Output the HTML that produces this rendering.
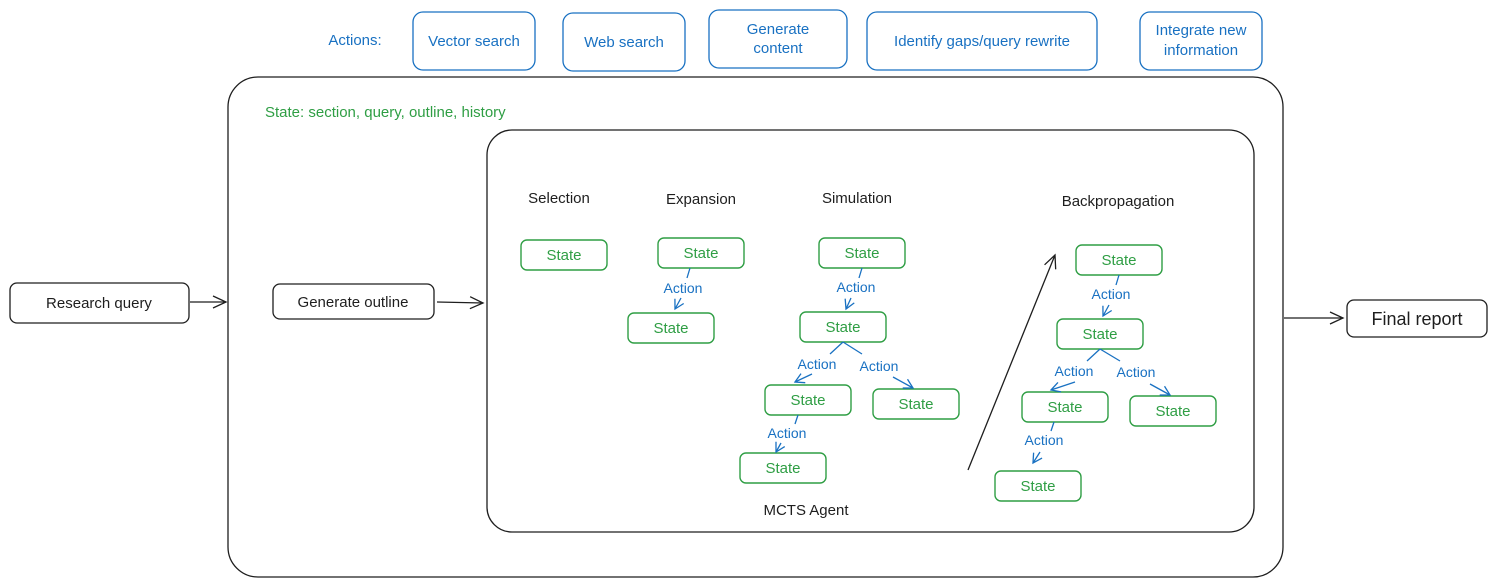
<!DOCTYPE html>
<html><head><style>
html,body{margin:0;padding:0;background:#fff;}
svg{display:block;}
text{font-family:"Liberation Sans",sans-serif;}
</style></head><body>
<svg width="1497" height="588" viewBox="0 0 1497 588" xmlns="http://www.w3.org/2000/svg">
<defs>
<marker id="ab" markerWidth="12" markerHeight="12" refX="10" refY="6" orient="auto" markerUnits="userSpaceOnUse"><path d="M1,1 L10,6 L1,11" fill="none" stroke="#1971c2" stroke-width="1.3"/></marker>
<marker id="ak" markerWidth="16" markerHeight="16" refX="14" refY="8" orient="auto" markerUnits="userSpaceOnUse"><path d="M1,2 L14,8 L1,14" fill="none" stroke="#1e1e1e" stroke-width="1.3"/></marker>
</defs>
<g fill="none" stroke="#1971c2" stroke-width="1.3">
<rect x="413" y="12" width="122" height="58" rx="10"/>
<rect x="563" y="13" width="122" height="58" rx="10"/>
<rect x="709" y="10" width="138" height="58" rx="10"/>
<rect x="867" y="12" width="230" height="58" rx="10"/>
<rect x="1140" y="12" width="122" height="58" rx="10"/>
</g>
<g fill="#1971c2" font-size="15" text-anchor="middle">
<text x="355" y="45">Actions:</text>
<text x="474" y="46">Vector search</text>
<text x="624" y="47">Web search</text>
<text x="778" y="34">Generate</text>
<text x="778" y="53">content</text>
<text x="982" y="46">Identify gaps/query rewrite</text>
<text x="1201" y="35">Integrate new</text>
<text x="1201" y="55">information</text>
</g>
<g fill="none" stroke="#1e1e1e" stroke-width="1.3">
<rect x="228" y="77" width="1055" height="500" rx="30"/>
<rect x="487" y="130" width="767" height="402" rx="25"/>
<rect x="10" y="283" width="179" height="40" rx="7"/>
<rect x="273" y="284" width="161" height="35" rx="7"/>
<rect x="1347" y="300" width="140" height="37" rx="7"/>
<line x1="190" y1="302" x2="226" y2="302" marker-end="url(#ak)"/>
<line x1="437" y1="302" x2="483" y2="303" marker-end="url(#ak)"/>
<line x1="1284" y1="318" x2="1343" y2="318" marker-end="url(#ak)"/>
<line x1="968" y1="470" x2="1055" y2="255" marker-end="url(#ak)"/>
</g>
<g fill="#1e1e1e" font-size="15" text-anchor="middle">
<text x="99" y="308">Research query</text>
<text x="353" y="307">Generate outline</text>
<text x="1417" y="325" font-size="18">Final report</text>
<text x="559" y="203">Selection</text>
<text x="701" y="204">Expansion</text>
<text x="857" y="203">Simulation</text>
<text x="1118" y="206">Backpropagation</text>
<text x="806" y="515">MCTS Agent</text>
</g>
<text x="265" y="117" fill="#2f9e44" font-size="15">State: section, query, outline, history</text>
<g fill="none" stroke="#2f9e44" stroke-width="1.4">
<rect x="521" y="240" width="86" height="30" rx="6"/>
<rect x="658" y="238" width="86" height="30" rx="6"/>
<rect x="628" y="313" width="86" height="30" rx="6"/>
<rect x="819" y="238" width="86" height="30" rx="6"/>
<rect x="800" y="312" width="86" height="30" rx="6"/>
<rect x="765" y="385" width="86" height="30" rx="6"/>
<rect x="873" y="389" width="86" height="30" rx="6"/>
<rect x="740" y="453" width="86" height="30" rx="6"/>
<rect x="1076" y="245" width="86" height="30" rx="6"/>
<rect x="1057" y="319" width="86" height="30" rx="6"/>
<rect x="1022" y="392" width="86" height="30" rx="6"/>
<rect x="1130" y="396" width="86" height="30" rx="6"/>
<rect x="995" y="471" width="86" height="30" rx="6"/>
</g>
<g fill="#2f9e44" font-size="15" text-anchor="middle">
<text x="564" y="260">State</text>
<text x="701" y="258">State</text>
<text x="671" y="333">State</text>
<text x="862" y="258">State</text>
<text x="843" y="332">State</text>
<text x="808" y="405">State</text>
<text x="916" y="409">State</text>
<text x="783" y="473">State</text>
<text x="1119" y="265">State</text>
<text x="1100" y="339">State</text>
<text x="1065" y="412">State</text>
<text x="1173" y="416">State</text>
<text x="1038" y="491">State</text>
</g>
<g fill="none" stroke="#1971c2" stroke-width="1.3">
<line x1="690" y1="268" x2="687" y2="278"/><line x1="681" y1="298" x2="675" y2="309" marker-end="url(#ab)"/>
<line x1="862" y1="268" x2="859" y2="278"/><line x1="851" y1="298" x2="846" y2="309" marker-end="url(#ab)"/>
<line x1="843" y1="342" x2="830" y2="354"/><line x1="812" y1="374" x2="795" y2="382" marker-end="url(#ab)"/>
<line x1="843" y1="342" x2="862" y2="354"/><line x1="893" y1="377" x2="913" y2="388" marker-end="url(#ab)"/>
<line x1="798" y1="415" x2="795" y2="424"/><line x1="781" y1="443" x2="776" y2="452" marker-end="url(#ab)"/>
<line x1="1119" y1="275" x2="1116" y2="285"/><line x1="1109" y1="305" x2="1103" y2="316" marker-end="url(#ab)"/>
<line x1="1100" y1="349" x2="1087" y2="361"/><line x1="1075" y1="382" x2="1051" y2="390" marker-end="url(#ab)"/>
<line x1="1100" y1="349" x2="1120" y2="361"/><line x1="1150" y1="384" x2="1170" y2="395" marker-end="url(#ab)"/>
<line x1="1054" y1="422" x2="1051" y2="431"/><line x1="1040" y1="452" x2="1033" y2="463" marker-end="url(#ab)"/>
</g>
<g fill="#1971c2" font-size="14" text-anchor="middle">
<text x="683" y="293">Action</text>
<text x="856" y="292">Action</text>
<text x="817" y="369">Action</text>
<text x="879" y="371">Action</text>
<text x="787" y="438">Action</text>
<text x="1111" y="299">Action</text>
<text x="1074" y="376">Action</text>
<text x="1136" y="377">Action</text>
<text x="1044" y="445">Action</text>
</g>
</svg>
</body></html>
